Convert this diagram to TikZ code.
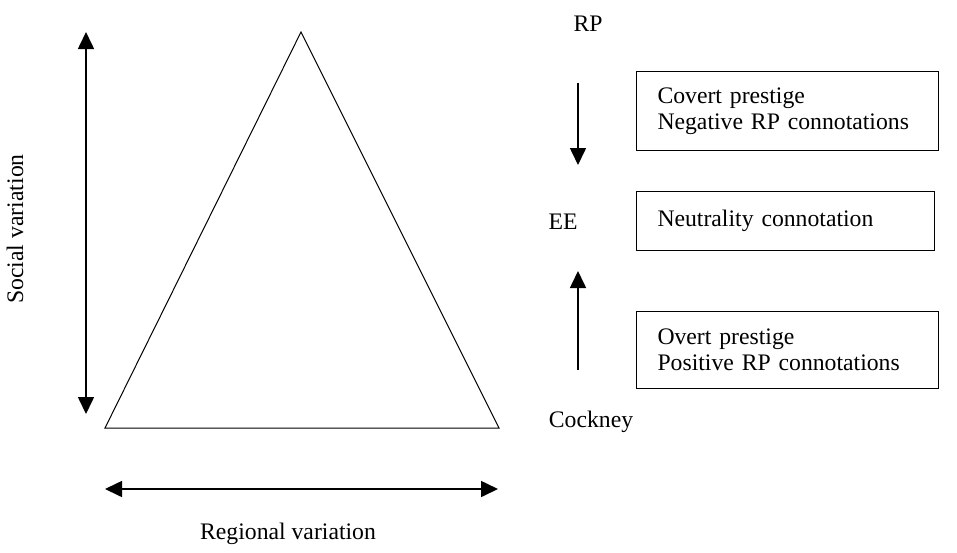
\documentclass[tikz,border=0pt]{standalone}
\usepackage{fontspec}
\setmainfont{Liberation Serif}
\usetikzlibrary{arrows.meta}

\begin{document}
\begin{tikzpicture}[x=1pt,y=-1pt]
   \tikzset{Label/.style={font=\fontsize{23.7}{26}\selectfont, inner sep=0pt}}
   \tikzset{Arrow/.style={line width=1.6pt, -{Triangle[length=17pt,width=16pt]}}}
   \tikzset{Both/.style={line width=1.6pt, {Triangle[length=17pt,width=16pt]}-{Triangle[length=17pt,width=16pt]}}}
   \tikzset{Box/.style={draw, line width=1pt, Label, align=left, text width=260pt,
      inner xsep=21pt, minimum height=79pt, anchor=north west}}
   \useasboundingbox (0,0) rectangle (957,552);
   % triangle
   \coordinate (apex) at (301,32);
   \coordinate (left) at (105,428);
   \coordinate (right) at (499,428);
   \draw[line width=1pt, line join=miter] (apex) -- (left) -- (right) -- cycle;
   % axes
   \coordinate (s1) at (86,414);
   \coordinate (s2) at (86,32);
   \draw[Both] (s1) -- (s2);
   \node[Label, rotate=90] (social) at (15,229) {Social variation};
   \coordinate (r1) at (105,489);
   \coordinate (r2) at (498,489);
   \draw[Both] (r1) -- (r2);
   \node[Label] (regional) at (288,534) {Regional variation};
   % accents
   \node[Label] (rp) at (588,24) {RP};
   \node[Label] (ee) at (563,222) {EE};
   \node[Label] (cockney) at (591,422) {Cockney};
   \coordinate (d1) at (578,83);
   \coordinate (d2) at (578,165);
   \draw[Arrow] (d1) -- (d2);
   \coordinate (u1) at (578,370);
   \coordinate (u2) at (578,271);
   \draw[Arrow] (u1) -- (u2);
   % connotations
   \node[Box, text width=260pt] (covert) at (636,71) {Covert prestige\\Negative RP connotations};
   \node[Box, text width=256pt, minimum height=59pt] (neutral) at (636,191) {Neutrality connotation};
   \node[Box, text width=260pt, minimum height=77pt] (overt) at (636,311) {Overt prestige\\Positive RP connotations};
\end{tikzpicture}
\end{document}
